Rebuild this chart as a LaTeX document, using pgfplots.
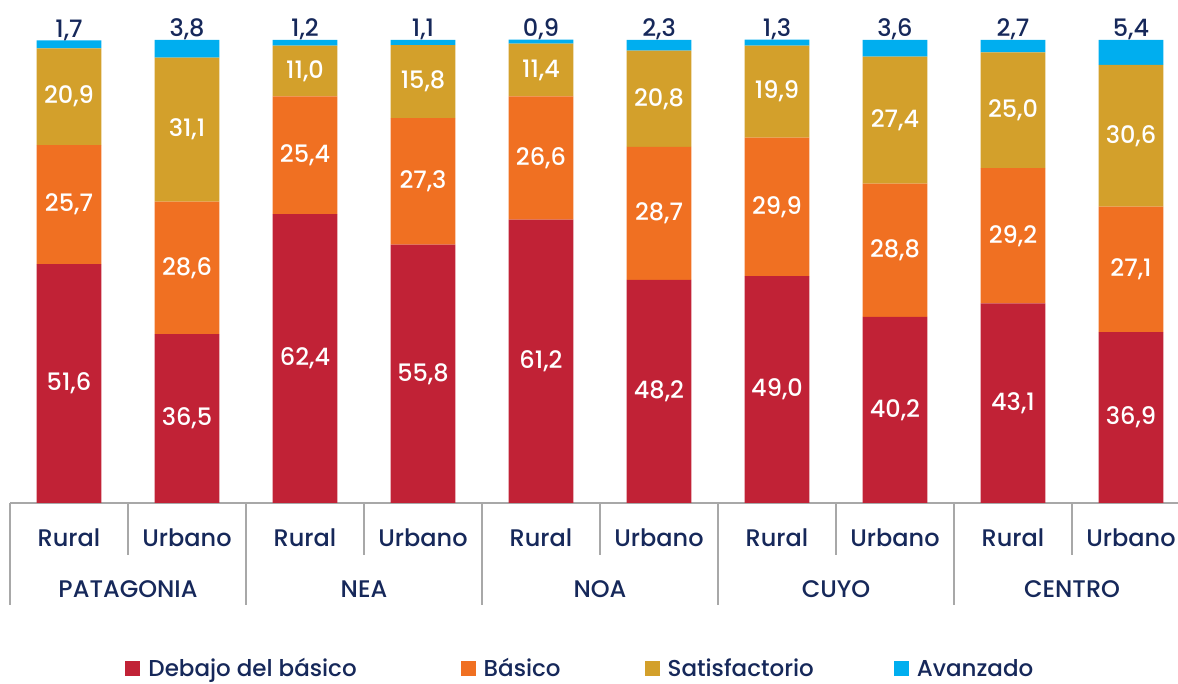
\documentclass[border=0pt]{standalone}
\usepackage{fontspec}
\setmainfont{Poppins Medium}
\usepackage{pgfplots}
\pgfplotsset{compat=1.18}
\definecolor{cDeb}{HTML}{C12236}
\definecolor{cBas}{HTML}{F07022}
\definecolor{cSat}{HTML}{D3A02B}
\definecolor{cAva}{HTML}{00AEEF}
\definecolor{navy}{HTML}{16285A}
\definecolor{sepgray}{HTML}{A8A8A8}
\pgfplotsset{
  common/.style={scale only axis, width=590pt, height=231.5pt,
    xmin=0, xmax=10, ymin=0, ymax=100, clip=false,
    enlarge x limits=false, enlarge y limits=false,
    /pgf/number format/.cd, fixed, fixed zerofill, precision=1, use comma, assume math mode=true,
    /pgfplots/.cd}
}

\begin{document}
\begin{tikzpicture}
\begin{axis}[common,
  ybar stacked, bar width=0.55,
  axis x line*=bottom, axis y line=none,
  x axis line style={sepgray, line width=1pt},
  major tick length=0pt,
  xtick={0.5,1.5,...,9.5},
  xticklabels={Rural,Urbano,Rural,Urbano,Rural,Urbano,Rural,Urbano,Rural,Urbano},
  xticklabel style={anchor=center, yshift=-17.5pt, font=\fontsize{12}{14}\selectfont, text=navy},
  extra x ticks={1,3,5,7,9},
  extra x tick labels={PATAGONIA,NEA,NOA,CUYO,CENTRO},
  extra x tick style={tick label style={yshift=-25.5pt, font=\fontsize{12.6}{14}\selectfont}},
  point meta=rawy,
  nodes near coords={\pgfmathprintnumber{\pgfplotspointmeta}},
  nodes near coords style={font=\fontsize{12}{14}\selectfont, text=white},
  legend columns=4,
  legend style={at={(0.0975,0)}, anchor=west, yshift=-83pt, draw=none, inner sep=0pt,
    font=\fontsize{11.5}{13}\selectfont, text=navy,
    /tikz/every odd column/.style={column sep=4pt},
    nodes={inner xsep=0pt, inner ysep=0pt}},
  legend image code/.code={\fill[#1,draw=none] (0pt,-3.75pt) rectangle (7.5pt,3.75pt);},
]
\addplot[fill=cDeb, draw=none] coordinates {(0.5,51.6) (1.5,36.5) (2.5,62.4) (3.5,55.8) (4.5,61.2) (5.5,48.2) (6.5,49.0) (7.5,40.2) (8.5,43.1) (9.5,36.9)};
\addplot[fill=cBas, draw=none] coordinates {(0.5,25.7) (1.5,28.6) (2.5,25.4) (3.5,27.3) (4.5,26.6) (5.5,28.7) (6.5,29.9) (7.5,28.8) (8.5,29.2) (9.5,27.1)};
\addplot[fill=cSat, draw=none] coordinates {(0.5,20.9) (1.5,31.1) (2.5,11.0) (3.5,15.8) (4.5,11.4) (5.5,20.8) (6.5,19.9) (7.5,27.4) (8.5,25.0) (9.5,30.6)};
\addplot[fill=cAva, draw=none, nodes near coords={}] coordinates {(0.5,1.7) (1.5,3.8) (2.5,1.2) (3.5,1.1) (4.5,0.9) (5.5,2.3) (6.5,1.3) (7.5,3.6) (8.5,2.7) (9.5,5.4)};
\legend{Debajo del básico\hspace*{52pt}, Básico\hspace*{42pt}, Satisfactorio\hspace*{40pt}, Avanzado}
\pgfplotsinvokeforeach{0,2,4,6,8,10}{\draw[sepgray, line width=1pt] (axis cs:#1,0) -- ++(0,-51pt);}
\pgfplotsinvokeforeach{1,3,5,7,9}{\draw[sepgray, line width=1pt] (axis cs:#1,0) -- ++(0,-26pt);}
\end{axis}
% totals of each bar, labelled with the Avanzado share
\begin{axis}[common, hide axis,
  point meta=explicit,
  nodes near coords={\pgfmathprintnumber{\pgfplotspointmeta}},
  nodes near coords style={font=\fontsize{12}{14}\selectfont, text=navy, anchor=base, inner sep=0pt, yshift=1.5pt},
]
\addplot[only marks, mark=*, mark size=0pt, mark options={draw=none, fill=none}]
  coordinates {(0.5,99.9) [1.7] (1.5,100.0) [3.8] (2.5,100.0) [1.2] (3.5,100.0) [1.1] (4.5,100.1) [0.9]
               (5.5,100.0) [2.3] (6.5,100.1) [1.3] (7.5,100.0) [3.6] (8.5,100.0) [2.7] (9.5,100.0) [5.4]};
\end{axis}
\pgfresetboundingbox
\path[use as bounding box] (-5pt,-90.5pt) rectangle (584pt,251.5pt);
\end{tikzpicture}
\end{document}
